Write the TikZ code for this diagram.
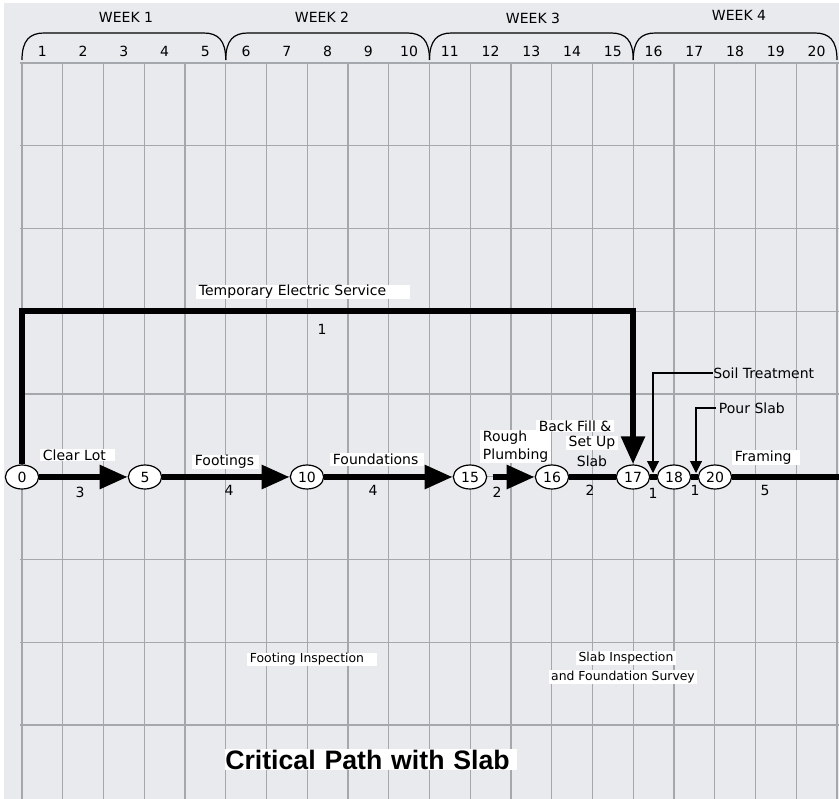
\documentclass[tikz,border=0pt]{standalone}
\usepackage{fontspec}
\setmainfont{DejaVu Sans}
\newfontfamily\titlefont{Liberation Sans}
\usepackage{tikz}
\usetikzlibrary{positioning,shapes.geometric,arrows.meta,backgrounds}
\definecolor{paper}{HTML}{E8EAED}
\definecolor{gridgray}{HTML}{A4A7AB}
\tikzset{
	gridline/.style={draw=gridgray, line width=1pt},
	brace/.style={line width=0.9pt},
	event/.style={ellipse, draw=black, fill=white, line width=0.9pt, minimum width=25pt, minimum height=18pt, inner sep=0pt},
	crit/.style={line width=4.8pt},
	critarrow/.style={crit, -{Triangle[length=21pt,width=17pt]}},
	callout/.style={line width=0.8pt, -{Triangle[length=9pt,width=9pt]}},
	lbl/.style={fill=white, inner xsep=2pt, inner ysep=0.5pt, anchor=west, align=left},
	small/.style={font=\fontsize{9.3}{13}\selectfont},
}

\begin{document}
\begin{tikzpicture}[x=0.75pt, y=-0.75pt, font=\fontsize{10.5}{14}\selectfont]
		\useasboundingbox (0,0) rectangle (839,799);
		\begin{scope}[on background layer]
			\fill[white] (0,0) rectangle (839,799);
			\fill[paper] (4,3) rectangle (839,799);
			\foreach \k in {0,...,20}
				\draw[gridline] ({22+40.75*\k},63) -- ({22+40.75*\k},799);
			\foreach \j in {0,...,8}
				\draw[gridline] (20,{63+82.75*\j}) -- (839,{63+82.75*\j});
		\end{scope}
		
		\foreach \w in {1,...,4}{
			\pgfmathsetmacro{\xa}{22+203.75*(\w-1)}
			\pgfmathsetmacro{\xb}{22+203.75*\w}
			\draw[brace] (\xa,60) .. controls (\xa,40) and (\xa+8,33) .. (\xa+22,33) -- (\xb-22,33) .. controls (\xb-8,33) and (\xb,40) .. (\xb,60);
		}
		\node (wk1) at (126,17) {WEEK 1};
		\node (wk2) at (322,17) {WEEK 2};
		\node (wk3) at (533,18) {WEEK 3};
		\node (wk4) at (739,15) {WEEK 4};
		\foreach \d in {1,...,20}
			\node (day\d) at ({22+40.75*(\d-0.5)},51) {\d};
		
		\node[event] (n0) at (22,477) {0};
		\node[event] (n5) at (145,477) {5};
		\node[event] (n10) at (307,477) {10};
		\node[event] (n15) at (470,477) {15};
		\node[event] (n16) at (552,477) {16};
		\node[event] (n17) at (633,477) {17};
		\node[event] (n18) at (674,477) {18};
		\node[event] (n20) at (715,477) {20};
		\coordinate (fend) at (839,477);
		\coordinate (elec) at (322,311);
		
		\draw[critarrow] (n0) -- (n5);
		\draw[critarrow] (n5) -- (n10);
		\draw[critarrow] (n10) -- (n15);
		\draw[critarrow, shorten <=4pt] (n15) -- (n16);
		\draw[crit] (n16) -- (n17);
		\draw[crit] (n17) -- (n18);
		\draw[crit] (n18) -- (n20);
		\draw[crit] (n20) -- (fend);
		\draw[critarrow] (n0) |- (elec) -| (n17);
		
		\node[lbl, text width=156pt] (tes) at (196,292) {Temporary Electric Service};
		\node (tesd) at (322,329) {1};
		\node[lbl, text width=52pt] (clear) at (40,455) {Clear Lot};
		\node (cleard) at (80,492) {3};
		\node[lbl, text width=46pt] (foot) at (192,462) {Footings};
		\node (footd) at (229,490) {4};
		\node[lbl, text width=66pt] (found) at (330,459.5) {Foundations};
		\node (foundd) at (373,490) {4};
		\node[lbl] (rough) at (480,446.5) {Rough\\Plumbing};
		\node (roughd) at (497,492) {2};
		\node[fill=white, inner xsep=2pt, inner ysep=0.5pt] (back) at (575,426) {Back Fill \&};
		\node[fill=white, inner xsep=2pt, inner ysep=0.5pt] (setup) at (592,443) {Set Up};
		\node (slab) at (592,461) {Slab};
		\node (backd) at (590,490) {2};
		\node (soild) at (653,493) {1};
		\node (pourd) at (695,490) {1};
		\node[lbl, text width=47pt] (fram) at (732,457.5) {Framing};
		\node (framd) at (765,490) {5};
		
		\node[anchor=west, inner sep=0pt] (soil) at (713,373) {Soil Treatment};
		\node[anchor=west, inner sep=2pt] (pour) at (716,408) {Pour Slab};
		\coordinate (soiltip) at (653,473);
		\coordinate (pourtip) at (696,473);
		\draw[callout] (soil.west) -| (soiltip);
		\draw[callout] (pour.west) -| (pourtip);
		
		\node[lbl, small, text width=93pt] (finsp) at (247,659.5) {Footing Inspection};
		\node[fill=white, small, inner xsep=2pt, inner ysep=0.5pt] (sinsp) at (626,658) {Slab Inspection};
		\node[fill=white, small, inner xsep=2pt, inner ysep=0.5pt] (survey) at (623,677) {and Foundation Survey};
		
		\node[lbl, inner xsep=0pt, text width=219pt, font=\titlefont\bfseries\fontsize{20}{24}\selectfont] (title) at (225,759.5) {Critical Path with Slab};
	\end{tikzpicture}
\end{document}
